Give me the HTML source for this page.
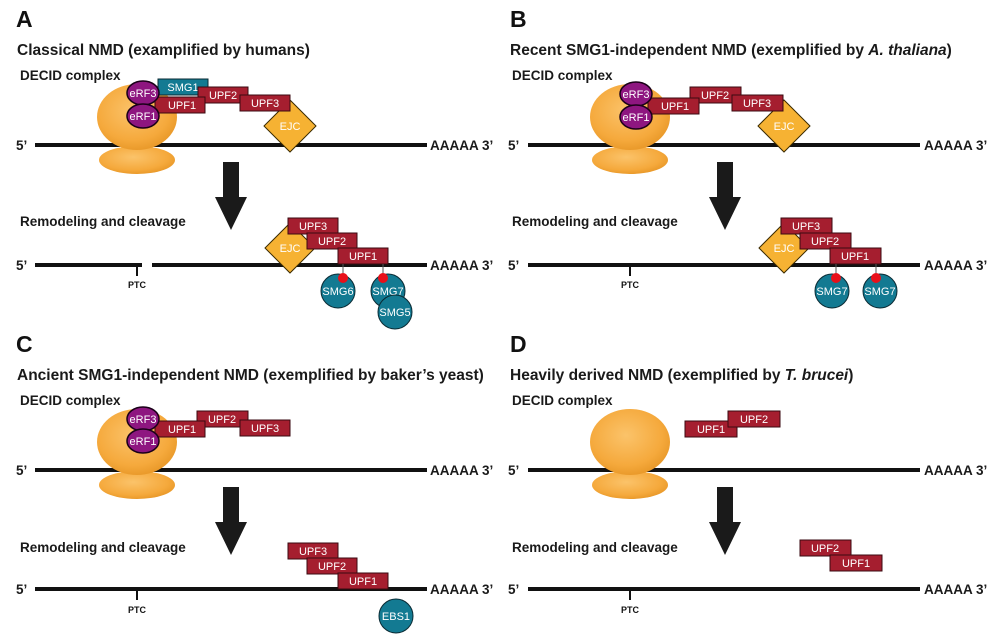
<!DOCTYPE html>
<html><head><meta charset="utf-8"><style>
html,body{margin:0;padding:0;background:#fff;}
svg{display:block;font-family:"Liberation Sans",Arial,sans-serif;}
.t{font-weight:bold;font-size:15.5px;fill:#1a1a1a}
.L{font-weight:bold;font-size:23px;fill:#111}
.s{font-weight:bold;font-size:13.5px;fill:#1a1a1a}
.p{font-weight:bold;font-size:9px;fill:#111}
.w{font-size:11px;fill:#fff;text-anchor:middle}
.r{fill:#a51e2f;stroke:#3a0a10;stroke-width:1}
.c{fill:#137a92;stroke:#0a2a33;stroke-width:1}
.m{fill:#8e1680;stroke:#1a0018;stroke-width:1.5}
.e{fill:#f6b233;stroke:#3a2a00;stroke-width:1}
.ln{stroke:#111;stroke-width:4}
</style></head><body>
<svg width="1000" height="640" viewBox="0 0 1000 640">
<defs>
<radialGradient id="g" cx="45%" cy="40%" r="65%"><stop offset="0" stop-color="#fbc36a"/><stop offset="0.7" stop-color="#f5a93c"/><stop offset="1" stop-color="#e69525"/></radialGradient>
<g id="rib">
<ellipse cx="0" cy="43" rx="38" ry="14" fill="url(#g)"/>
<ellipse cx="0" cy="0" rx="40" ry="33" fill="url(#g)"/>
</g>
<g id="arr"><polygon points="-8,0 8,0 8,35 16,35 0,68 -16,35 -8,35" fill="#1a1a1a"/></g>
</defs>

<!-- ============ A ============ -->
<text x="16" y="27" class="L">A</text>
<text x="17" y="55" class="t">Classical NMD (examplified by humans)</text>
<text x="20" y="80" class="s">DECID complex</text>
<line x1="35" y1="145" x2="427" y2="145" class="ln"/>
<use href="#rib" x="137" y="117"/>
<text x="16" y="150" class="s">5’</text><text x="430" y="150" class="s">AAAAA 3’</text>
<rect x="158" y="79" width="50" height="16" class="c"/><text x="183" y="91" class="w">SMG1</text>
<rect x="198" y="87" width="50" height="16" class="r"/><text x="223" y="99" class="w">UPF2</text>
<rect x="155" y="97" width="50" height="16" class="r"/><text x="182" y="109" class="w">UPF1</text>
<polygon points="290,100 316,126 290,152 264,126" class="e"/><text x="290" y="130" class="w">EJC</text>
<rect x="240" y="95" width="50" height="16" class="r"/><text x="265" y="107" class="w">UPF3</text>
<ellipse cx="143" cy="93" rx="16" ry="12" class="m"/><text x="143" y="97" class="w">eRF3</text>
<ellipse cx="143" cy="116" rx="16" ry="12" class="m"/><text x="143" y="120" class="w">eRF1</text>
<use href="#arr" x="231" y="162"/>
<text x="20" y="226" class="s">Remodeling and cleavage</text>
<line x1="35" y1="265" x2="142" y2="265" class="ln"/><line x1="152" y1="265" x2="427" y2="265" class="ln"/>
<line x1="137" y1="265" x2="137" y2="276" stroke="#111" stroke-width="2"/>
<text x="137" y="288" class="p" text-anchor="middle">PTC</text>
<text x="16" y="270" class="s">5’</text><text x="430" y="270" class="s">AAAAA 3’</text>
<polygon points="290,223 315,248 290,273 265,248" class="e"/><text x="290" y="252" class="w">EJC</text>
<rect x="288" y="218" width="50" height="16" class="r"/><text x="313" y="230" class="w">UPF3</text>
<rect x="307" y="233" width="50" height="16" class="r"/><text x="332" y="245" class="w">UPF2</text>
<rect x="338" y="248" width="50" height="16" class="r"/><text x="363" y="260" class="w">UPF1</text>
<line x1="343" y1="264" x2="343" y2="278" stroke="#555"/><line x1="383" y1="264" x2="383" y2="278" stroke="#555"/>
<circle cx="338" cy="291" r="17" class="c"/><text x="338" y="295" class="w">SMG6</text>
<circle cx="388" cy="291" r="17" class="c"/><text x="388" y="295" class="w">SMG7</text>
<circle cx="395" cy="312" r="17" class="c"/><text x="395" y="316" class="w">SMG5</text>
<circle cx="343" cy="278" r="5" fill="#e8101a"/><circle cx="383" cy="278" r="5" fill="#e8101a"/>

<!-- ============ B ============ -->
<text x="510" y="27" class="L">B</text>
<text x="510" y="55" class="t">Recent SMG1-independent NMD (exemplified by <tspan font-style="italic">A. thaliana</tspan>)</text>
<text x="512" y="80" class="s">DECID complex</text>
<line x1="528" y1="145" x2="920" y2="145" class="ln"/>
<use href="#rib" x="630" y="117"/>
<text x="508" y="150" class="s">5’</text><text x="924" y="150" class="s">AAAAA 3’</text>
<rect x="690" y="87" width="51" height="16" class="r"/><text x="715" y="99" class="w">UPF2</text>
<rect x="648" y="98" width="51" height="16" class="r"/><text x="675" y="110" class="w">UPF1</text>
<polygon points="784,100 810,126 784,152 758,126" class="e"/><text x="784" y="130" class="w">EJC</text>
<rect x="732" y="95" width="51" height="16" class="r"/><text x="757" y="107" class="w">UPF3</text>
<ellipse cx="636" cy="94" rx="16" ry="12" class="m"/><text x="636" y="98" class="w">eRF3</text>
<ellipse cx="636" cy="117" rx="16" ry="12" class="m"/><text x="636" y="121" class="w">eRF1</text>
<use href="#arr" x="725" y="162"/>
<text x="512" y="226" class="s">Remodeling and cleavage</text>
<line x1="528" y1="265" x2="920" y2="265" class="ln"/>
<line x1="630" y1="265" x2="630" y2="276" stroke="#111" stroke-width="2"/>
<text x="630" y="288" class="p" text-anchor="middle">PTC</text>
<text x="508" y="270" class="s">5’</text><text x="924" y="270" class="s">AAAAA 3’</text>
<polygon points="784,223 809,248 784,273 759,248" class="e"/><text x="784" y="252" class="w">EJC</text>
<rect x="781" y="218" width="51" height="16" class="r"/><text x="806" y="230" class="w">UPF3</text>
<rect x="800" y="233" width="51" height="16" class="r"/><text x="825" y="245" class="w">UPF2</text>
<rect x="830" y="248" width="51" height="16" class="r"/><text x="855" y="260" class="w">UPF1</text>
<line x1="836" y1="264" x2="836" y2="278" stroke="#555"/><line x1="876" y1="264" x2="876" y2="278" stroke="#555"/>
<circle cx="832" cy="291" r="17" class="c"/><text x="832" y="295" class="w">SMG7</text>
<circle cx="880" cy="291" r="17" class="c"/><text x="880" y="295" class="w">SMG7</text>
<circle cx="836" cy="278" r="5" fill="#e8101a"/><circle cx="876" cy="278" r="5" fill="#e8101a"/>

<!-- ============ C ============ -->
<text x="16" y="352" class="L">C</text>
<text x="17" y="380" class="t">Ancient SMG1-independent NMD (exemplified by baker’s yeast)</text>
<text x="20" y="405" class="s">DECID complex</text>
<line x1="35" y1="470" x2="427" y2="470" class="ln"/>
<use href="#rib" x="137" y="442"/>
<text x="16" y="475" class="s">5’</text><text x="430" y="475" class="s">AAAAA 3’</text>
<rect x="197" y="411" width="51" height="16" class="r"/><text x="222" y="423" class="w">UPF2</text>
<rect x="155" y="421" width="50" height="16" class="r"/><text x="182" y="433" class="w">UPF1</text>
<rect x="240" y="420" width="50" height="16" class="r"/><text x="265" y="432" class="w">UPF3</text>
<ellipse cx="143" cy="419" rx="16" ry="12" class="m"/><text x="143" y="423" class="w">eRF3</text>
<ellipse cx="143" cy="441" rx="16" ry="12" class="m"/><text x="143" y="445" class="w">eRF1</text>
<use href="#arr" x="231" y="487"/>
<text x="20" y="552" class="s">Remodeling and cleavage</text>
<line x1="35" y1="589" x2="427" y2="589" class="ln"/>
<line x1="137" y1="589" x2="137" y2="600" stroke="#111" stroke-width="2"/>
<text x="137" y="613" class="p" text-anchor="middle">PTC</text>
<text x="16" y="594" class="s">5’</text><text x="430" y="594" class="s">AAAAA 3’</text>
<rect x="288" y="543" width="50" height="16" class="r"/><text x="313" y="555" class="w">UPF3</text>
<rect x="307" y="558" width="50" height="16" class="r"/><text x="332" y="570" class="w">UPF2</text>
<rect x="338" y="573" width="50" height="16" class="r"/><text x="363" y="585" class="w">UPF1</text>
<circle cx="396" cy="616" r="17" class="c"/><text x="396" y="620" class="w">EBS1</text>

<!-- ============ D ============ -->
<text x="510" y="352" class="L">D</text>
<text x="510" y="380" class="t">Heavily derived NMD (exemplified by <tspan font-style="italic">T. brucei</tspan>)</text>
<text x="512" y="405" class="s">DECID complex</text>
<line x1="528" y1="470" x2="920" y2="470" class="ln"/>
<use href="#rib" x="630" y="442"/>
<text x="508" y="475" class="s">5’</text><text x="924" y="475" class="s">AAAAA 3’</text>
<rect x="685" y="421" width="52" height="16" class="r"/><text x="711" y="433" class="w">UPF1</text>
<rect x="728" y="411" width="52" height="16" class="r"/><text x="754" y="423" class="w">UPF2</text>
<use href="#arr" x="725" y="487"/>
<text x="512" y="552" class="s">Remodeling and cleavage</text>
<line x1="528" y1="589" x2="920" y2="589" class="ln"/>
<line x1="630" y1="589" x2="630" y2="600" stroke="#111" stroke-width="2"/>
<text x="630" y="613" class="p" text-anchor="middle">PTC</text>
<text x="508" y="594" class="s">5’</text><text x="924" y="594" class="s">AAAAA 3’</text>
<rect x="800" y="540" width="51" height="16" class="r"/><text x="825" y="552" class="w">UPF2</text>
<rect x="830" y="555" width="52" height="16" class="r"/><text x="856" y="567" class="w">UPF1</text>
</svg>
</body></html>
